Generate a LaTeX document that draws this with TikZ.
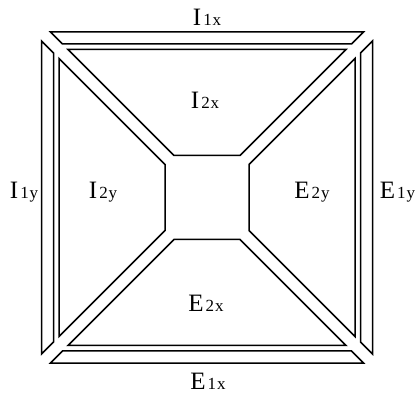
\documentclass[tikz,border=0pt]{standalone}
\usepackage{fontspec}
\setmainfont{Liberation Serif}
\newcommand\mylab[3]{#1\kern2pt{\fontsize{17}{17}\selectfont #2\kern0.8pt #3}}
\begin{document}
\begin{tikzpicture}[x=1pt,y=-1pt]
\tikzset{
  region/.style={draw=black, line width=1.5pt, line join=miter},
  lab/.style={anchor=base, inner sep=0pt, font=\fontsize{25}{25}\selectfont}
}
\useasboundingbox (0,0) rectangle (416,396);
\foreach \r in {0,90,180,270}{
  \begin{scope}[shift={(207,197.5)}, rotate=\r]
    \draw[region] (-156.5,-165.5) -- (156.5,-165.5) -- (144.5,-153.5) -- (-144.5,-153.5) -- cycle;
    \draw[region] (-139,-148) -- (139,-148) -- (33,-42) -- (-33,-42) -- cycle;
  \end{scope}
}
\node[lab] (i1x) at (207,26) {\mylab{I}{1}{x}};
\node[lab] (i2x) at (205,109) {\mylab{I}{2}{x}};
\node[lab] (i1y) at (24,198.5) {\mylab{I}{1}{y}};
\node[lab] (i2y) at (103,198.5) {\mylab{I}{2}{y}};
\node[lab] (e2y) at (312,198.5) {\mylab{E}{2}{y}};
\node[lab] (e1y) at (397.5,198.5) {\mylab{E}{1}{y}};
\node[lab] (e2x) at (206,312) {\mylab{E}{2}{x}};
\node[lab] (e1x) at (208,389) {\mylab{E}{1}{x}};
\end{tikzpicture}
\end{document}
